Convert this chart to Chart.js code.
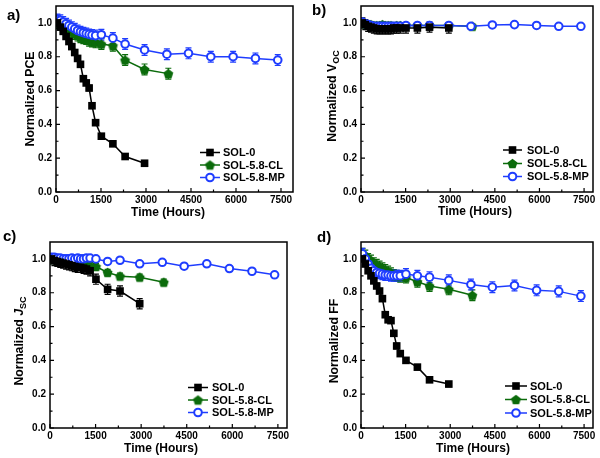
<!DOCTYPE html>
<html><head><meta charset="utf-8">
<script src="https://cdn.jsdelivr.net/npm/chart.js@4/dist/chart.umd.min.js"></script>
<style>
html,body{margin:0;padding:0;background:#fff;width:600px;height:458px;overflow:hidden;position:relative}
canvas{position:absolute}
.lbl{position:absolute;font-family:"Liberation Sans",Arial,sans-serif;font-weight:bold;font-size:15px;line-height:15px;color:#000}
</style></head><body>
<canvas id="ca" width="300" height="229" style="left:0;top:0"></canvas>
<canvas id="cb" width="300" height="229" style="left:300px;top:0"></canvas>
<canvas id="cc" width="300" height="229" style="left:0;top:229px"></canvas>
<canvas id="cd" width="300" height="229" style="left:300px;top:229px"></canvas>
<div class="lbl" style="left:7px;top:7px">a)</div>
<div class="lbl" style="left:312px;top:2px">b)</div>
<div class="lbl" style="left:3px;top:228px">c)</div>
<div class="lbl" style="left:317px;top:229px">d)</div>
<script>
// ---- data ----
const seriesNames = ['SOL-0', 'SOL-5.8-CL', 'SOL-5.8-MP'];
const xTicks = [0, 1500, 3000, 4500, 6000, 7500];
const xMinorTicks = [750, 2250, 3750, 5250, 6750];
const yTicks = [0, 0.2, 0.4, 0.6, 0.8, 1.0];
const yMinorTicks = [0.1, 0.3, 0.5, 0.7, 0.9];

const timeSOL0 = [48, 144, 240, 336, 432, 528, 624, 720, 816, 912, 1008, 1104, 1200, 1320, 1512, 1896, 2304, 2952];
const timeCL = [48, 144, 240, 336, 432, 528, 624, 720, 816, 912, 1008, 1104, 1200, 1320, 1512, 1896, 2304, 2952, 3744];
const timeMP = [48, 144, 240, 336, 432, 528, 624, 720, 816, 912, 1008, 1104, 1200, 1320, 1512, 1896, 2304, 2952, 3696, 4416, 5160, 5904, 6648, 7392];

const pceSOL0 = [1.00, 0.975, 0.95, 0.92, 0.89, 0.86, 0.825, 0.79, 0.755, 0.67, 0.645, 0.615, 0.51, 0.41, 0.33, 0.285, 0.21, 0.17];
const pceCL = [1.00, 0.99, 0.975, 0.965, 0.955, 0.945, 0.935, 0.925, 0.915, 0.91, 0.905, 0.895, 0.89, 0.885, 0.875, 0.865, 0.78, 0.725, 0.70];
const pceMP = [1.02, 1.015, 1.005, 0.995, 0.985, 0.975, 0.965, 0.955, 0.948, 0.942, 0.937, 0.932, 0.928, 0.925, 0.93, 0.91, 0.875, 0.84, 0.815, 0.82, 0.80, 0.80, 0.79, 0.78];

const vocSOL0 = [1.0, 0.99, 0.98, 0.975, 0.97, 0.965, 0.965, 0.965, 0.965, 0.965, 0.965, 0.97, 0.97, 0.97, 0.97, 0.97, 0.975, 0.97];
const vocCL = [1.0, 0.995, 0.99, 0.99, 0.985, 0.985, 0.985, 0.99, 0.985, 0.985, 0.985, 0.98, 0.985, 0.985, 0.985, 0.985, 0.985, 0.985, 0.98];
const vocMP = [1.005, 0.995, 0.99, 0.985, 0.98, 0.98, 0.98, 0.98, 0.98, 0.98, 0.98, 0.98, 0.98, 0.98, 0.985, 0.985, 0.985, 0.985, 0.98, 0.988, 0.99, 0.985, 0.98, 0.98];

const jscSOL0 = [1.0, 0.99, 0.985, 0.98, 0.975, 0.97, 0.965, 0.96, 0.955, 0.95, 0.95, 0.945, 0.94, 0.93, 0.88, 0.82, 0.81, 0.735];
const jscCL = [1.0, 1.0, 0.995, 0.99, 0.99, 0.985, 0.98, 0.98, 0.975, 0.975, 0.97, 0.97, 0.965, 0.96, 0.955, 0.92, 0.898, 0.892, 0.862];
const jscMP = [1.01, 1.01, 1.005, 1.005, 1.0, 1.0, 1.0, 1.005, 1.0, 1.005, 1.0, 1.0, 1.005, 1.005, 1.0, 0.985, 0.992, 0.971, 0.98, 0.957, 0.971, 0.943, 0.927, 0.906];

const ffSOL0 = [1.0, 0.97, 0.93, 0.90, 0.87, 0.84, 0.81, 0.765, 0.67, 0.64, 0.635, 0.56, 0.485, 0.44, 0.40, 0.36, 0.285, 0.26];
const ffCL = [1.03, 1.02, 1.0, 0.99, 0.975, 0.965, 0.955, 0.945, 0.935, 0.925, 0.915, 0.905, 0.9, 0.895, 0.89, 0.865, 0.84, 0.82, 0.785];
const ffMP = [1.03, 1.0, 0.97, 0.945, 0.93, 0.92, 0.915, 0.91, 0.905, 0.905, 0.9, 0.9, 0.9, 0.9, 0.91, 0.90, 0.892, 0.873, 0.849, 0.833, 0.843, 0.814, 0.808, 0.78];

// typical error-bar half widths per series (SOL-0, CL, MP)
const errPCE = [0.015, 0.032, 0.032];
const errVOC = [0.03, 0.015, 0.012];
const errJSC = [0.03, 0.018, 0.014];
const errFF = [0.015, 0.032, 0.032];

// ---- styling ----
const FONT = '"Liberation Sans", Arial, sans-serif';
const COLORS = ['#000000', '#0b6b0b', '#1f3dff'];

function pentagon(color, r) {
  const s = Math.ceil(r * 2 + 2);
  const c = document.createElement('canvas');
  c.width = s; c.height = s;
  const g = c.getContext('2d');
  g.fillStyle = color;
  g.beginPath();
  for (let k = 0; k < 5; k++) {
    const a = -Math.PI / 2 + k * 2 * Math.PI / 5;
    const px = s / 2 + r * Math.cos(a), py = s / 2 + r * Math.sin(a) + r * 0.1;
    if (k) g.lineTo(px, py); else g.moveTo(px, py);
  }
  g.closePath(); g.fill();
  return c;
}
const pentImg = pentagon(COLORS[1], 5.2);

const panels = [
  {id: 'ca', data: [pceSOL0, pceCL, pceMP], err: errPCE,
   ytitle: [{t: 'Normalized PCE'}],
   area: {l: 56, r: 293, t: 4, b: 192}, xmax: 7900,
   xt: {x: 168, y: 213}, yt: {x: 29, y: 99},
   leg: {x0: 200, x1: 220, tx: 223, rows: [152.5, 165, 177.5]}},
  {id: 'cb', data: [vocSOL0, vocCL, vocMP], err: errVOC,
   ytitle: [{t: 'Normalized V'}, {t: 'OC', sub: true}],
   area: {l: 61, r: 293, t: 5, b: 192}, xmax: 7800,
   xt: {x: 175, y: 212}, yt: {x: 31, y: 96},
   leg: {x0: 203, x1: 222, tx: 227, rows: [150, 163.5, 176.5]}},
  {id: 'cc', data: [jscSOL0, jscCL, jscMP], err: errJSC,
   ytitle: [{t: 'Normalized '}, {t: 'J', it: true}, {t: 'SC', sub: true}],
   area: {l: 50, r: 287, t: 13, b: 199}, xmax: 7800,
   xt: {x: 161, y: 220}, yt: {x: 18, y: 112},
   leg: {x0: 188, x1: 208, tx: 212, rows: [158.5, 171, 183.5]}},
  {id: 'cd', data: [ffSOL0, ffCL, ffMP], err: errFF,
   ytitle: [{t: 'Normalized FF'}],
   area: {l: 61, r: 293, t: 13, b: 199}, xmax: 7800,
   xt: {x: 173, y: 220}, yt: {x: 33, y: 112},
   leg: {x0: 205, x1: 227, tx: 230, rows: [157, 170.5, 184]}}
];
const times = [timeSOL0, timeCL, timeMP];

function drawMarker(ctx, k, x, y) {
  ctx.save();
  if (k === 0) {
    ctx.fillStyle = COLORS[0];
    ctx.fillRect(x - 3.8, y - 3.8, 7.6, 7.6);
  } else if (k === 1) {
    ctx.drawImage(pentImg, x - pentImg.width / 2, y - pentImg.height / 2);
  } else {
    ctx.beginPath(); ctx.arc(x, y, 3.8, 0, Math.PI * 2);
    ctx.fillStyle = '#fff'; ctx.fill();
    ctx.lineWidth = 2; ctx.strokeStyle = COLORS[2]; ctx.stroke();
  }
  ctx.restore();
}

function makeChart(p) {
  const datasets = [0, 1, 2].map(k => ({
    label: seriesNames[k],
    data: times[k].map((t, i) => ({x: t, y: p.data[k][i]})),
    borderColor: COLORS[k],
    borderWidth: 1.5,
    backgroundColor: k === 2 ? '#ffffff' : COLORS[k],
    pointBackgroundColor: k === 2 ? '#ffffff' : COLORS[k],
    pointBorderColor: COLORS[k],
    pointStyle: k === 0 ? 'rect' : (k === 1 ? pentImg : 'circle'),
    pointRadius: k === 0 ? 5.4 : (k === 1 ? 5.2 : 3.8),
    pointBorderWidth: k === 0 ? 0 : (k === 1 ? 0 : 2),
    tension: 0,
    fill: false,
    order: k === 0 ? 0 : (k === 1 ? 2 : 1)
  }));

  const extras = {
    id: 'extras' + p.id,
    beforeDatasetsDraw(chart) {
      const ctx = chart.ctx, ys = chart.scales.y;
      ctx.save();
      ctx.beginPath();
      const a = chart.chartArea;
      ctx.rect(a.left, a.top, a.right - a.left, a.bottom - a.top);
      ctx.clip();
      [1, 2, 0].forEach(k => {
        const meta = chart.getDatasetMeta(k);
        ctx.strokeStyle = COLORS[k];
        ctx.lineWidth = 1.2;
        meta.data.forEach((pt, i) => {
          const v = p.data[k][i], e = p.err[k];
          const y1 = ys.getPixelForValue(v + e), y2 = ys.getPixelForValue(v - e);
          ctx.beginPath();
          ctx.moveTo(pt.x, y1); ctx.lineTo(pt.x, y2);
          ctx.moveTo(pt.x - 3, y1); ctx.lineTo(pt.x + 3, y1);
          ctx.moveTo(pt.x - 3, y2); ctx.lineTo(pt.x + 3, y2);
          ctx.stroke();
        });
      });
      ctx.restore();
    },
    afterDraw(chart) {
      const ctx = chart.ctx, a = chart.chartArea, xs = chart.scales.x, ys = chart.scales.y;
      ctx.save();
      // frame
      ctx.strokeStyle = '#000'; ctx.lineWidth = 1.5;
      ctx.strokeRect(a.left, a.top, a.right - a.left, a.bottom - a.top);
      // inward ticks
      ctx.lineWidth = 1.2;
      ctx.beginPath();
      xTicks.forEach(v => { const x = xs.getPixelForValue(v); ctx.moveTo(x, a.bottom); ctx.lineTo(x, a.bottom - 4); });
      xMinorTicks.forEach(v => { const x = xs.getPixelForValue(v); ctx.moveTo(x, a.bottom); ctx.lineTo(x, a.bottom - 2.5); });
      yTicks.forEach(v => { const y = ys.getPixelForValue(v); ctx.moveTo(a.left, y); ctx.lineTo(a.left + 4, y); });
      yMinorTicks.forEach(v => { const y = ys.getPixelForValue(v); ctx.moveTo(a.left, y); ctx.lineTo(a.left + 2.5, y); });
      ctx.stroke();
      // axis titles
      ctx.fillStyle = '#000';
      ctx.textBaseline = 'middle';
      ctx.textAlign = 'center';
      ctx.font = 'bold 12px ' + FONT;
      ctx.fillText('Time (Hours)', p.xt.x, p.xt.y);
      ctx.save();
      ctx.translate(p.yt.x, p.yt.y);
      ctx.rotate(-Math.PI / 2);
      ctx.textAlign = 'left';
      ctx.textBaseline = 'alphabetic';
      const fontFor = s => (s.it ? 'italic ' : '') + 'bold ' + (s.sub ? 9 : 12.3) + 'px ' + FONT;
      let total = 0;
      p.ytitle.forEach(s => { ctx.font = fontFor(s); total += ctx.measureText(s.t).width; });
      let cx = -total / 2;
      p.ytitle.forEach(s => {
        ctx.font = fontFor(s);
        ctx.fillText(s.t, cx, s.sub ? 7.5 : 4.5);
        cx += ctx.measureText(s.t).width;
      });
      ctx.restore();
      // legend
      ctx.font = 'bold 11px ' + FONT;
      ctx.textAlign = 'left';
      ctx.textBaseline = 'middle';
      [0, 1, 2].forEach(k => {
        const y = p.leg.rows[k];
        ctx.strokeStyle = COLORS[k]; ctx.lineWidth = 1.5;
        ctx.beginPath(); ctx.moveTo(p.leg.x0, y); ctx.lineTo(p.leg.x1, y); ctx.stroke();
        drawMarker(ctx, k, (p.leg.x0 + p.leg.x1) / 2, y);
        ctx.fillStyle = '#000';
        ctx.fillText(seriesNames[k], p.leg.tx, y + 0.5);
      });
      ctx.restore();
    }
  };

  return new Chart(document.getElementById(p.id), {
    type: 'line',
    data: {datasets},
    options: {
      animation: false, responsive: false, devicePixelRatio: 1,
      layout: {padding: {top: p.area.t, right: 300 - p.area.r, left: 0, bottom: 0}},
      plugins: {legend: {display: false}, tooltip: {enabled: false}},
      scales: {
        x: {
          type: 'linear', min: 0, max: p.xmax,
          grid: {display: false, drawTicks: false}, border: {display: false},
          ticks: {color: '#000', font: {family: FONT, size: 10, weight: 'bold'}, padding: 2, maxRotation: 0, autoSkip: false,
                  callback: v => String(v)},
          afterBuildTicks: s => { s.ticks = xTicks.map(v => ({value: v})); },
          afterFit: s => { s.height = 229 - p.area.b; s.paddingLeft = 0; s.paddingRight = 0; }
        },
        y: {
          type: 'linear', min: 0, max: 1.1,
          grid: {display: false, drawTicks: false}, border: {display: false},
          ticks: {color: '#000', font: {family: FONT, size: 10, weight: 'bold'}, padding: 4,
                  callback: v => Number(v).toFixed(1)},
          afterBuildTicks: s => { s.ticks = yTicks.map(v => ({value: v})); },
          afterFit: s => { s.width = p.area.l; s.paddingTop = 0; s.paddingBottom = 0; }
        }
      }
    },
    plugins: [extras]
  });
}
panels.forEach(makeChart);
</script>
</body></html>
